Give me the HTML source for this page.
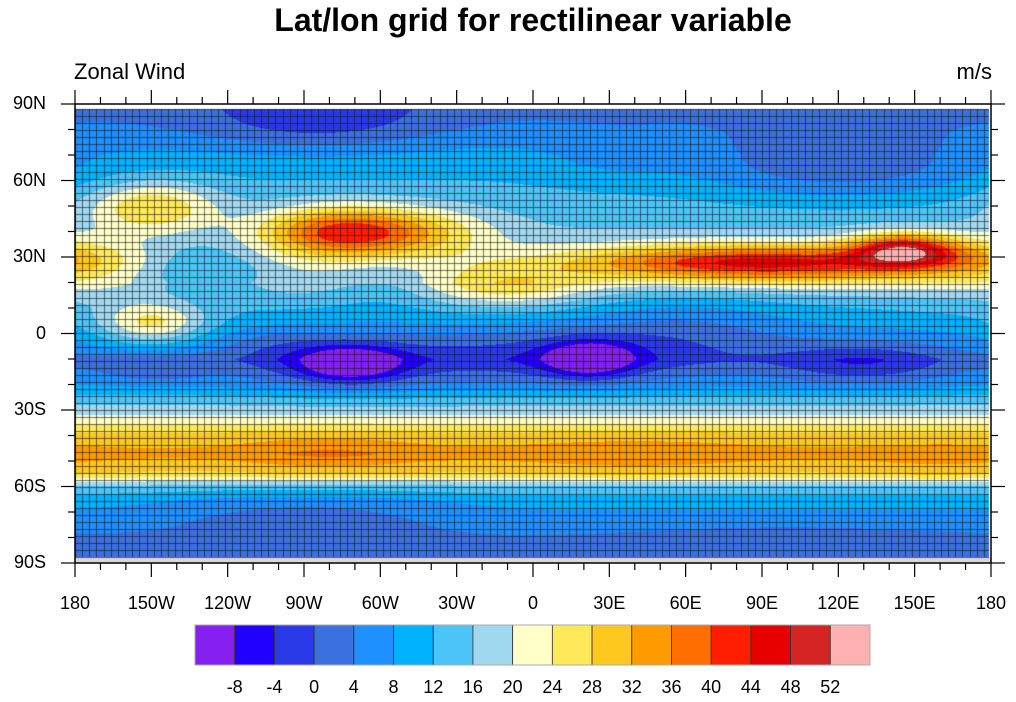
<!DOCTYPE html>
<html><head><meta charset="utf-8"><style>
html,body{margin:0;padding:0;background:#fff;}
body{width:1016px;height:702px;position:relative;overflow:hidden;font-family:"Liberation Sans",sans-serif;}
.t{position:absolute;white-space:nowrap;color:#000;}
canvas,svg{position:absolute;left:0;top:0;}
</style></head><body>
<canvas id="c" width="1016" height="702"></canvas>
<svg id="s" width="1016" height="702"></svg>
<div class="t" style="left:0;width:1066px;text-align:center;top:2px;font-size:32px;font-weight:bold;">Lat/lon grid for rectilinear variable</div>
<div class="t" style="left:74px;top:59px;font-size:22px;">Zonal Wind</div>
<div class="t" style="right:24px;top:59px;font-size:22px;">m/s</div>
<div id="lab"></div>
<script>
var cols=["#8520f0","#2200ff","#2a3ae8","#3a70e0","#1e90ff","#00b2ff","#4cc4f8","#a0d8f0","#ffffc8","#ffe85a","#ffc81e","#ff9a00","#ff6e00","#ff1e00","#e60000","#d42424","#ffb0b0"];
function rgb(h){return [parseInt(h.substr(1,2),16),parseInt(h.substr(3,2),16),parseInt(h.substr(5,2),16)];}
var crgb=cols.map(rgb);
var prof=[[90,3],[88,3],[80,6],[70,10],[60,12],[50,14],[40,16],[30,18],[20,19],[10,12],[0,7],[-10,3],[-20,8],[-30,18],[-40,29],[-47,33],[-55,27],[-60,15],[-65,10],[-72,7],[-80,4],[-88,2],[-90,2]];
function base(lat){for(var i=0;i<prof.length-1;i++){var a=prof[i],b=prof[i+1];if(lat<=a[0]&&lat>=b[0]){var t=(a[0]-lat)/(a[0]-b[0]);return a[1]+(b[1]-a[1])*t;}}return 0;}
var blobs=[
[90,28,50,5,28],[145,33,14,4.5,26],[175,30,20,6,8],
[-75,40,22,7,26],[-40,40,20,7,8],
[-150,50,18,7,14],[-130,24,18,8,-8],[-10,18,22,6,9],[-60,20,15,7,-4],
[120,66,40,10,-10],[-85,82,35,8,-7],[30,70,20,8,-3],
[-150,4,15,6,14],[-100,-3,15,5,-2],
[-72,-12,14,5,-14],[-75,-11,35,8,-7],[22,-10,12,5,-14],[15,-9,35,8,-7],[130,-12,25,6,-8],[-150,-14,15,4,-5],
[-80,-47,25,6,4],[40,-48,35,6,3],[160,-50,25,6,2],
[-90,-70,40,7,-5],[100,-80,50,6,-2],[-150,5,40,18,2],[60,5,30,10,-5]];
function field(lon,lat){var v=base(lat);for(var i=0;i<blobs.length;i++){var b=blobs[i];var dl=lon-b[0];if(dl>180)dl-=360;if(dl<-180)dl+=360;var dy=lat-b[1];v+=b[4]*Math.exp(-(dl*dl)/(2*b[2]*b[2])-(dy*dy)/(2*b[3]*b[3]));}return v;}
var c=document.getElementById('c').getContext('2d');
var X0=75,X1=989,Y0=109,Y1=557;
var img=c.createImageData(X1-X0,Y1-Y0);
for(var y=Y0;y<Y1;y++){var lat=90-(y-104)/2.55;for(var x=X0;x<X1;x++){var lon=-180+(x-75)/2.5444;var v=field(lon,lat);var k=Math.floor((v+8)/4)+1;if(k<0)k=0;if(k>16)k=16;var p=((y-Y0)*(X1-X0)+(x-X0))*4;var q=crgb[k];img.data[p]=q[0];img.data[p+1]=q[1];img.data[p+2]=q[2];img.data[p+3]=255;}}
c.putImageData(img,X0,Y0);
c.fillStyle="#d8d8d8";c.fillRect(75,557,916,6);
c.strokeStyle="rgba(20,20,20,0.6)";c.lineWidth=1;c.beginPath();
for(var i=0;i<=128;i++){var x=Math.round(75+i*7.156)+0.5;if(x>989)break;c.moveTo(x,Y0);c.lineTo(x,Y1);}
for(var j=0;j<=64;j++){var y=Math.round(Y0+j*7)+0.5;c.moveTo(X0,y);c.lineTo(X1,y);}
c.stroke();
var s='';
s+='<rect x="75" y="104" width="916" height="459" fill="none" stroke="#000" stroke-width="1.5"/>';
for(var lon=-180;lon<=180;lon+=10){var x=75+(lon+180)*2.5444;var L=(lon%30==0)?14:7;s+='<line x1="'+x+'" y1="104" x2="'+x+'" y2="'+(104-L)+'" stroke="#000" stroke-width="1.2"/>';s+='<line x1="'+x+'" y1="563" x2="'+x+'" y2="'+(563+L)+'" stroke="#000" stroke-width="1.2"/>';}
for(var la=-90;la<=90;la+=10){var y=104+(90-la)*2.55;var L=(la%30==0)?14:7;s+='<line x1="75" y1="'+y+'" x2="'+(75-L)+'" y2="'+y+'" stroke="#000" stroke-width="1.2"/>';s+='<line x1="991" y1="'+y+'" x2="'+(991+L)+'" y2="'+y+'" stroke="#000" stroke-width="1.2"/>';}
var bw=675/17;
for(var i=0;i<17;i++){s+='<rect x="'+(195+i*bw)+'" y="625" width="'+bw+'" height="40" fill="'+cols[i]+'" stroke="#333" stroke-width="0.8"/>';}
s+='<rect x="195" y="625" width="675" height="40" fill="none" stroke="#aaa" stroke-width="1"/>';
document.getElementById('s').innerHTML=s;
var h='';
var yl=["90N","60N","30N","0","30S","60S","90S"];
for(var i=0;i<7;i++){var y=104+i*30*2.55;h+='<div class="t" style="right:'+(1016-46)+'px;top:'+(y-11)+'px;font-size:18px;">'+yl[i]+'</div>';}
var xl=["180","150W","120W","90W","60W","30W","0","30E","60E","90E","120E","150E","180"];
for(var i=0;i<13;i++){var x=75+i*30*2.5444;h+='<div class="t" style="left:'+(x-40)+'px;width:80px;text-align:center;top:593px;font-size:18px;">'+xl[i]+'</div>';}
var cl=[-8,-4,0,4,8,12,16,20,24,28,32,36,40,44,48,52];
for(var i=0;i<16;i++){var x=195+(i+1)*bw;h+='<div class="t" style="left:'+(x-30)+'px;width:60px;text-align:center;top:677px;font-size:18px;">'+cl[i]+'</div>';}
document.getElementById('lab').innerHTML=h;
</script>
</body></html>
